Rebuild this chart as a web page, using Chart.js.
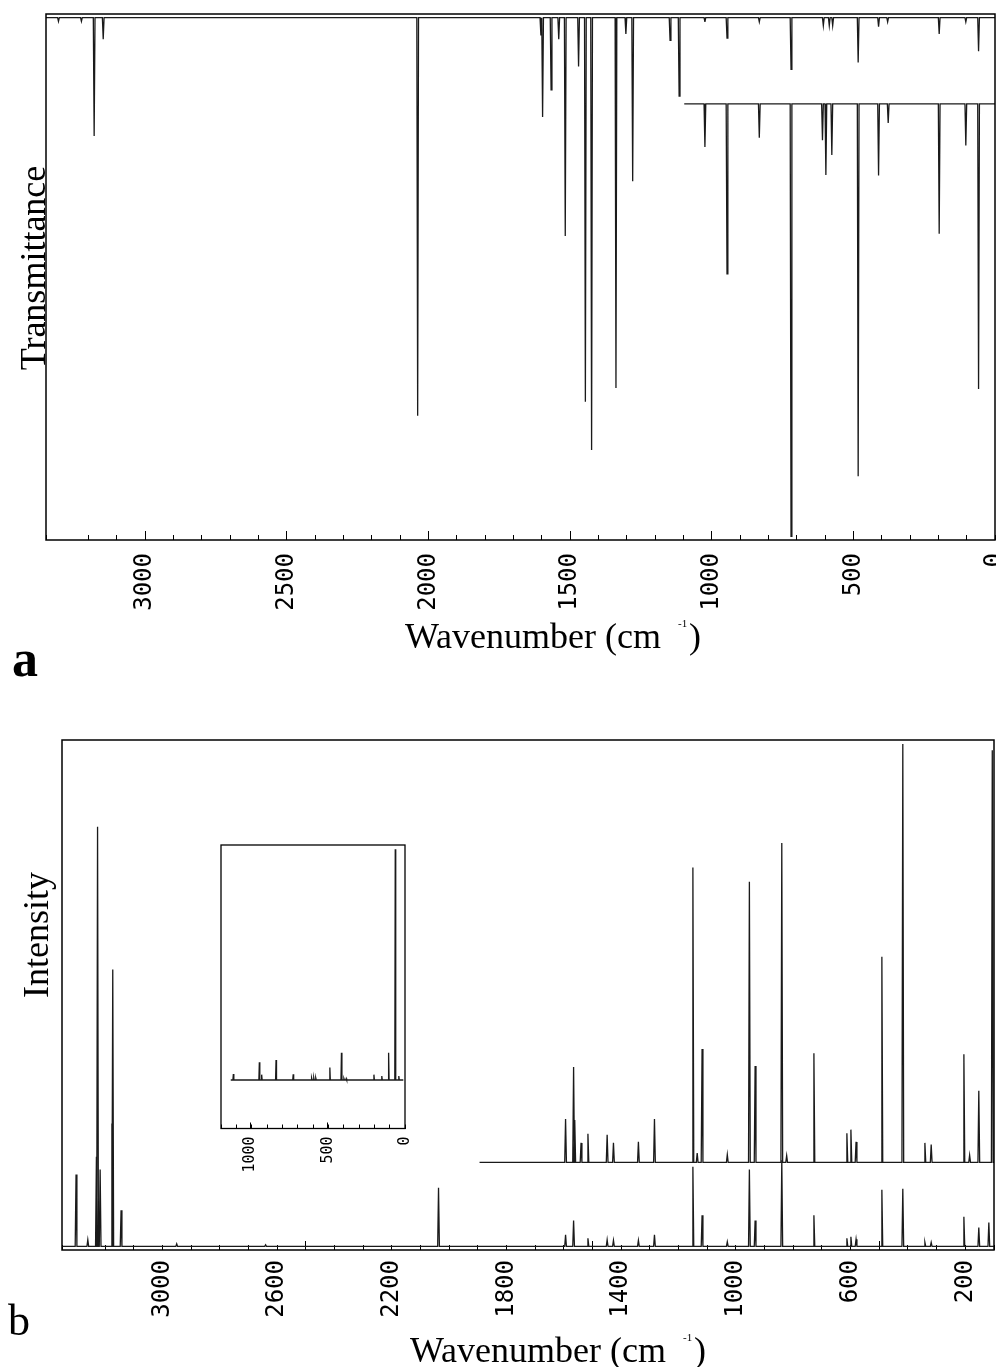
<!DOCTYPE html>
<html>
<head>
<meta charset="utf-8">
<script src="https://cdn.jsdelivr.net/npm/chart.js@4.4.1/dist/chart.umd.min.js"></script>
<style>
html,body{margin:0;padding:0;background:#fff;}
#page{position:relative;width:996px;height:1367px;overflow:hidden;background:#fff;}
.box{position:absolute;}
</style>
</head>
<body>
<div id="page">
  <div class="box" style="left:0;top:0;width:996px;height:690px"><canvas id="irChart"></canvas></div>
  <div class="box" style="left:0;top:700px;width:996px;height:667px"><canvas id="ramanChart"></canvas></div>
  <div class="box" style="left:219px;top:843px;width:190px;height:340px"><canvas id="insetChart"></canvas></div>
</div>
<script>
// ================== Data ==================
// panel a : IR, [wavenumber, transmittance at band tip]
const irBase = 99.3;
const irPeaks = [
  [3306,98.6],[3225,98.6],[3180,76.8],[3148,95.2],[2038,23.6],
  [1603,95.9],[1597,80.4],[1567,85.6],[1540,95.2],[1517,57.8],[1470,90],
  [1446,26.3],[1424,17.1],[1338,28.9],[1303,96.2],[1279,68.2],[1147,95],
  [1115,84.4],[1024,98.5],[946,95.4],[832,98.5],[720,89.5],[606,97.8],
  [585,97.8],[573,97.8],[483,90.8],[411,97.6],[379,98.5],[197,96.2],
  [103,98.5],[58,92.9]
];
// expanded low-wavenumber trace (offset)
const irZoomBase = 82.9;
const irZoomRange = [1097, 0];
const irZoomPeaks = [
  [1024,74.7],[946,50.6],[832,76.5],[720,0.7],[609,76],[597,69.4],
  [576,73.2],[483,12.1],[411,69.3],[377,79.3],[197,58.2],[103,75],[58,28.7]
];

// panel b : Raman, [wavenumber, intensity at band tip]
const ramanBase = 0.7;
const ramanPeaks = [
  [3301,14.8],[3260,2],[3230,18.3],[3226,83],[3217,15.8],[3176,24.8],[3173,55],
  [3144,7.8],[2950,1.2],[2640,1],[2037,12.2],[1594,3],[1566,5.8],[1516,2.3],
  [1449,2],[1427,1.9],[1340,1.9],[1284,3],[1150,16.3],[1118,6.8],[1030,1.6],
  [953,15.8],[933,5.8],[840,17.6],[728,6.8],[613,2.3],[599,2.6],[581,2.1],
  [491,11.8],[418,12],[341,1.5],[319,1.5],[205,6.5],[153,4.4],[118,5.4]
];
const ramanUpperBase = 17.2;
const ramanUpperRange = [1894, 100];
const ramanUpperPeaks = [
  [1594,25.7],[1566,35.9],[1562,25.5],[1540,21],[1516,22.8],[1449,22.6],
  [1427,21],[1340,21.2],[1284,25.7],[1150,75],[1135,19],[1118,39.4],
  [1030,18.7],[953,72.2],[933,36.1],[840,79.8],[823,18.5],[728,38.6],
  [613,22.9],[599,23.6],[581,21.2],[491,57.5],[418,99.2],[341,21],[319,20.7],
  [205,38.4],[185,18.6],[153,31.2],[106,98]
];

// inset of panel b
const insetBase = 17.1;
const insetRange = [1127, 11];
const insetPeaks = [
  [1110,19.2],[942,23.4],[927,19],[834,24.2],[723,19.1],[604,17.8],[590,17.9],
  [577,17.8],[486,21.5],[411,26.7],[395,17.6],[380,17.6],[201,19],[150,18.5],
  [106,26.7],[63,98.5],[40,18.5]
];

const irTickLabels = [3000,2500,2000,1500,1000,500,0];
const irMajorTicks = [3000,2500,2000,1500,1000,500];
const ramanTickLabels = [3000,2600,2200,1800,1400,1000,600,200];
const ramanMajorTicks = [2500,1500,500];
const insetTickLabels = [1000,500,0];
const insetMajorTicks = [1000,500];

// ================== Helpers ==================
function spikes(peaks, base, from, to, hw){
  const pts = [{x:from, y:base}];
  peaks.slice().sort((a,b)=>b[0]-a[0]).forEach(([w,v])=>{
    pts.push({x:w+hw,y:base},{x:w,y:v},{x:w-hw,y:base});
  });
  pts.push({x:to, y:base});
  return pts;
}
function trace(data){
  return {data, borderColor:'#1a1a1a', borderWidth:1.3, pointRadius:0, tension:0, fill:false};
}
const frame = {
  id:'frame',
  afterDraw(chart, args, opts){
    const {ctx, chartArea:a} = chart;
    ctx.save();
    ctx.strokeStyle = '#000'; ctx.lineWidth = opts.width || 1.5;
    ctx.strokeRect(a.left, a.top, a.right-a.left, a.bottom-a.top);
    ctx.fillStyle = '#000';
    (opts.texts||[]).forEach(t=>{
      ctx.save();
      ctx.font = t.font; ctx.textAlign = t.align || 'left'; ctx.textBaseline = 'alphabetic';
      ctx.translate(t.x, t.y);
      if(t.rot) ctx.rotate(t.rot);
      ctx.fillText(t.text, 0, 0);
      ctx.restore();
    });
    ctx.restore();
  }
};
const noPad = s => { s.paddingLeft = 0; s.paddingRight = 0; s.paddingTop = 0; s.paddingBottom = 0; };
// three stacked bottom axes: minor tick marks, major tick marks, labels
function xScales(min, max, height, labels, majors, size, pad, minorLen, majorLen){
  const base = {type:'linear', position:'bottom', reverse:true, min, max, border:{display:false}};
  return {
    x: {...base,
      afterFit: s=>{ s.height = 0; noPad(s); },
      grid:{display:true, drawOnChartArea:false, drawTicks:true, tickLength:-minorLen, color:'#000', lineWidth:1},
      ticks:{display:false, stepSize:100}},
    xm: {...base,
      afterBuildTicks: s=>{ s.ticks = majors.map(v=>({value:v})); },
      afterFit: s=>{ s.height = 0; noPad(s); },
      grid:{display:true, drawOnChartArea:false, drawTicks:true, tickLength:-majorLen, color:'#000', lineWidth:1},
      ticks:{display:false}},
    xl: {...base,
      afterBuildTicks: s=>{ s.ticks = labels.map(v=>({value:v})); },
      afterFit: s=>{ s.height = height; noPad(s); },
      grid:{display:false},
      ticks:{autoSkip:false, maxRotation:90, minRotation:90, padding:pad, color:'#000',
        font:{family:'DejaVu Sans Mono', size}, callback: v => String(v)}}
  };
}
function yScale(width){
  return {min:0, max:100, display: width>0, afterFit: s=>{ s.width = width; noPad(s); },
    ticks:{display:false}, grid:{display:false}, border:{display:false}};
}
const serif = '36px "Liberation Serif", "Times New Roman", serif';

// ================== Panel a ==================
new Chart(document.getElementById('irChart'), {
  type:'line',
  data:{datasets:[
    trace(spikes(irPeaks, irBase, 3350, 0, 3)),
    trace(spikes(irZoomPeaks, irZoomBase, irZoomRange[0], irZoomRange[1], 3))
  ]},
  options:{
    responsive:true, maintainAspectRatio:false, animation:false, events:[],
    layout:{padding:{top:14, right:1, left:0, bottom:0}},
    plugins:{legend:{display:false}, tooltip:{enabled:false},
      frame:{texts:[
        {text:'Transmittance', x:45, y:268, rot:-Math.PI/2, align:'center', font:serif},
        {text:'Wavenumber (cm', x:405, y:648, font:serif},
        {text:'-1', x:678, y:627, font:'11px "Liberation Serif", serif'},
        {text:')', x:689, y:648, font:serif},
        {text:'a', x:12, y:676, font:'bold 52px "Liberation Serif", serif'}
      ]}},
    scales:{ ...xScales(0, 3350, 150, irTickLabels, irMajorTicks, 24, 5, 5, 9), y: yScale(46) }
  },
  plugins:[frame]
});

// ================== Panel b ==================
new Chart(document.getElementById('ramanChart'), {
  type:'line',
  data:{datasets:[
    trace(spikes(ramanPeaks, ramanBase, 3350, 100, 3)),
    trace(spikes(ramanUpperPeaks, ramanUpperBase, ramanUpperRange[0], ramanUpperRange[1], 3))
  ]},
  options:{
    responsive:true, maintainAspectRatio:false, animation:false, events:[],
    layout:{padding:{top:40, right:2, left:0, bottom:0}},
    plugins:{legend:{display:false}, tooltip:{enabled:false},
      frame:{texts:[
        {text:'Intensity', x:48, y:235, rot:-Math.PI/2, align:'center', font:serif},
        {text:'Wavenumber (cm', x:410, y:662, font:serif},
        {text:'-1', x:683, y:641, font:'11px "Liberation Serif", serif'},
        {text:')', x:694, y:662, font:serif},
        {text:'b', x:8, y:635, font:'44px "Liberation Serif", serif'}
      ]}},
    scales:{ ...xScales(100, 3350, 117, ramanTickLabels, ramanMajorTicks, 24, 2, 5, 9), y: yScale(62) }
  },
  plugins:[frame]
});

// ================== Inset of b ==================
new Chart(document.getElementById('insetChart'), {
  type:'line',
  data:{datasets:[ trace(spikes(insetPeaks, insetBase, insetRange[0], insetRange[1], 3)) ]},
  options:{
    responsive:true, maintainAspectRatio:false, animation:false, events:[],
    layout:{padding:{top:2, right:4, left:2, bottom:0}},
    plugins:{legend:{display:false}, tooltip:{enabled:false}, frame:{width:1.3}},
    scales:{ ...xScales(0, 1190, 54.5, insetTickLabels, insetMajorTicks, 15, 0, 4, 6), y: yScale(0) }
  },
  plugins:[frame]
});
</script>
</body>
</html>
